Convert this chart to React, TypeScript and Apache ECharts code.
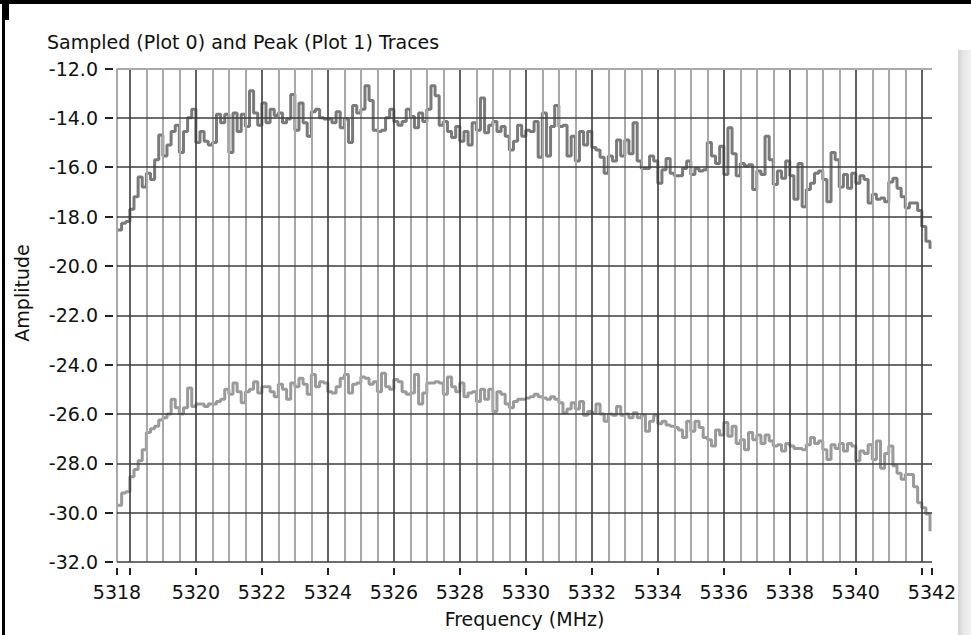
import React, { useEffect, useRef } from "react";
import * as echarts from "echarts";

const titleText = "Sampled (Plot 0) and Peak (Plot 1) Traces";
const xAxisName = "Frequency (MHz)";
const yAxisName = "Amplitude";

const freqMin = 5317.61;
const freqMax = 5342.31;
const ampMin = -32;
const ampMax = -12;
const ampStep = 2;

const sampleStart = 5317.625;
const sampleStep = 0.125;

const majorFreqLines = [5318, 5320, 5322, 5324, 5326, 5328, 5330, 5332, 5334, 5336, 5338, 5340, 5342];
const minorFreqStep = 0.5;
const majorAmpLines = [-32, -30, -28, -26, -24, -22, -20, -18, -16, -14];
const topAmpLine = -12;

// Plot 0 (sampled trace)
const sampledAmp = [
  -18.55, -18.27, -18.2, -17.7, -17.2, -16.4, -16.8, -16.25, -16.5, -15.7, -14.7, -15.55, -15.1, -14.55, -14.3, -15.4, -14.55, -14.0, -13.65,
  -15.0, -14.55, -14.95, -15.1, -15.0, -13.85, -14.2, -13.85, -15.4, -13.8, -14.55, -13.85, -14.35, -12.9, -13.8, -14.3,
  -13.4, -14.2, -13.65, -13.9, -13.8, -14.2, -14.05, -13.05, -14.5, -13.4, -14.2, -14.75, -13.75, -13.65, -14.0, -14.05,
  -14.05, -14.2, -13.75, -14.4, -14.05, -15.0, -13.5, -13.8, -13.65, -12.7, -13.3, -14.5, -14.55, -14.5, -14.0, -13.65,
  -14.15, -14.3, -14.15, -13.65, -13.95, -14.4, -13.8, -14.15, -13.65, -12.7, -13.1, -14.3, -14.15, -14.55, -14.8, -14.35,
  -14.95, -14.55, -15.1, -14.2, -14.5, -13.2, -14.6, -14.3, -14.15, -14.55, -14.35, -14.75, -15.3, -14.95, -14.3, -14.75,
  -14.5, -14.55, -14.15, -15.6, -13.8, -15.55, -14.35, -13.5, -14.35, -14.3, -15.55, -14.75, -15.75, -14.55, -15.1, -14.55,
  -15.2, -15.3, -15.6, -16.25, -15.55, -15.75, -14.9, -15.55, -14.9, -15.45, -14.2, -15.75, -16.05, -16.05, -15.55, -15.75,
  -16.65,
  -16.1, -15.65, -16.25, -16.35, -16.35, -16.05, -15.75, -16.3, -16.05, -16.15, -16.1, -15.0, -15.55, -15.85, -15.15,
  -16.3, -14.4, -15.45, -16.35, -15.85, -15.95, -15.9, -16.9, -16.15, -16.3, -14.75, -15.7, -16.7, -16.15, -16.45, -15.75,
  -16.35, -17.3, -15.85, -17.6, -16.9, -16.65, -16.25, -16.15, -16.5, -17.4, -15.4, -15.7, -16.8, -16.3, -16.85, -16.25,
  -16.65, -16.35, -16.5, -17.45, -17.1, -17.3, -17.25, -17.4, -16.6, -16.45, -16.85, -17.2, -17.65, -17.45, -17.45, -17.75,
  -18.4, -19.0, -19.3,
];

// Plot 1 (peak trace)
const peakAmp = [
  -29.7, -29.2, -29.15, -28.55, -28.25, -27.9, -27.45, -26.75, -26.6, -26.5, -26.25, -26.15, -26.0, -25.4, -25.75, -26.0, -25.75, -24.95, -25.7,
  -25.6, -25.6, -25.7, -25.6, -25.6, -25.5, -25.4, -25.0, -25.2, -24.75, -25.1, -25.55, -25.1, -25.0, -24.7, -25.15,
  -24.9, -24.9, -25.1, -25.3, -24.8, -25.0, -25.4, -24.75, -24.9, -24.55, -24.8, -25.2, -24.4, -24.9, -24.7, -24.75,
  -25.1, -25.15, -24.9, -24.55, -24.4, -25.15, -24.8, -24.75, -24.5, -24.55, -24.8, -24.7, -25.1, -24.35, -24.9, -25.0,
  -24.6, -24.7, -25.1, -25.2, -25.15, -24.4, -25.6, -25.15, -24.75, -24.75, -24.7, -24.75, -25.2, -24.5, -24.9, -25.1,
  -24.75, -25.3, -25.15, -25.1, -25.5, -25.0, -25.4, -25.0, -25.9, -25.1, -25.2, -25.6, -25.75, -25.5, -25.4, -25.4,
  -25.35, -25.3, -25.2, -25.3, -25.35, -25.4, -25.3, -25.4, -25.55, -25.95, -25.8, -25.55, -25.8, -25.5, -26.05, -25.9,
  -25.95, -25.6, -26.0, -26.3, -26.0, -26.05, -25.7, -26.05, -26.0, -26.15, -25.95, -26.15, -26.05, -26.7, -26.3, -26.05,
  -26.4,
  -26.3, -26.45, -26.5, -26.55, -26.65, -26.95, -26.3, -26.7, -26.3, -26.55, -26.95, -27.05, -27.3, -26.65, -26.85,
  -26.35, -26.9, -26.5, -27.2, -27.05, -27.45, -26.75, -27.05, -26.85, -27.2, -26.85, -27.1, -27.3, -27.25, -27.5, -27.2,
  -27.3, -27.4, -27.4, -27.45, -27.25, -26.95, -27.2, -27.1, -27.45, -27.85, -27.25, -27.4, -27.2, -27.5, -27.2, -27.3,
  -27.9, -27.5, -27.6, -27.25, -27.85, -27.1, -28.2, -27.6, -27.3, -28.1, -28.4, -28.65, -28.45, -28.45, -28.95, -29.6,
  -29.8, -30.05, -30.75,
];

const FONT = '"DejaVu Sans", Verdana, sans-serif';
const MAJOR_GRID = "#3c3c3c";
const MINOR_GRID = "#a9a9a9";

function toPairs(values: number[]) {
  return values.map((v, i) => [sampleStart + i * sampleStep, v]);
}

export default function App() {
  const ref = useRef<HTMLDivElement>(null);

  useEffect(() => {
    if (!ref.current) return;
    const chart = echarts.init(ref.current, null, { renderer: "svg" });

    const minorFreqLines: number[] = [freqMin];
    for (let f = Math.ceil(freqMin / minorFreqStep) * minorFreqStep; f <= freqMax; f += minorFreqStep) {
      if (!majorFreqLines.some((m) => Math.abs(m - f) < 1e-6)) minorFreqLines.push(f);
    }

    const gridLineData: any[] = [
      ...minorFreqLines.map((v) => ({ xAxis: v, lineStyle: { color: MINOR_GRID, width: 2, type: "solid" } })),
      ...majorFreqLines.map((v) => ({ xAxis: v, lineStyle: { color: MAJOR_GRID, width: 1.6, type: "solid" } })),
      ...majorAmpLines.map((v) => ({ yAxis: v, lineStyle: { color: MAJOR_GRID, width: 1.6, type: "solid" } })),
      { yAxis: topAmpLine, lineStyle: { color: MINOR_GRID, width: 2, type: "solid" } },
    ];

    const option: any = {
      animation: false,
      backgroundColor: "#ffffff",
      title: {
        text: titleText,
        left: 47,
        top: 32,
        padding: 0,
        textStyle: { fontFamily: FONT, fontSize: 19, fontWeight: "normal", color: "#111" },
      },
      grid: { left: 117, right: 39, top: 68.5, bottom: 73, containLabel: false, outerBoundsMode: "none" },
      xAxis: {
        type: "value",
        min: freqMin,
        max: freqMax,
        splitNumber: 12,
        offset: 6,
        name: xAxisName,
        nameLocation: "middle",
        nameGap: 41,
        nameTextStyle: { fontFamily: FONT, fontSize: 19, color: "#111" },
        axisLine: { show: false },
        axisTick: { show: true, length: 7, lineStyle: { color: "#222", width: 2 } },
        splitLine: { show: false },
        axisLabel: {
          show: true,
          showMinLabel: true,
          showMaxLabel: true,
          margin: 14,
          fontFamily: FONT,
          fontSize: 19,
          color: "#111",
          formatter: (v: number) => {
            const atEdge = Math.abs(v - freqMin) < 1e-6 || Math.abs(v - freqMax) < 1e-6;
            if (!atEdge && (Math.abs(v - freqMin) < 0.5 || Math.abs(v - freqMax) < 0.5)) return "";
            return String(Math.round(v));
          },
        },
      },
      yAxis: {
        type: "value",
        min: ampMin,
        max: ampMax,
        interval: ampStep,
        offset: 4,
        axisLine: { show: false },
        axisTick: { show: true, length: 8, lineStyle: { color: "#222", width: 2 } },
        splitLine: { show: false },
        axisLabel: {
          margin: 15,
          fontFamily: FONT,
          fontSize: 19,
          color: "#111",
          formatter: (v: number) => v.toFixed(1),
        },
      },
      graphic: [
        { type: "rect", shape: { x: 0, y: 0, width: 971, height: 4 }, style: { fill: "#000" }, silent: true },
        { type: "rect", shape: { x: 2, y: 0, width: 3, height: 635 }, style: { fill: "#000" }, silent: true },
        { type: "rect", shape: { x: 2, y: 0, width: 7, height: 20 }, style: { fill: "#000" }, silent: true },
        {
          type: "rect",
          shape: { x: 958, y: 50, width: 13, height: 585 },
          style: {
            fill: new echarts.graphic.LinearGradient(0, 0, 1, 0, [
              { offset: 0, color: "#d2d2d2" },
              { offset: 0.4, color: "#e6e6e6" },
              { offset: 1, color: "#f2f2f2" },
            ]),
          },
          silent: true,
        },
        {
          type: "text",
          x: 22,
          y: 293,
          rotation: Math.PI / 2,
          style: {
            text: yAxisName,
            font: `19px ${FONT}`,
            fill: "#111",
            textAlign: "center",
            textVerticalAlign: "middle",
          },
          silent: true,
        },
      ],
      series: [
        {
          name: "grid",
          type: "line",
          data: [],
          silent: true,
          z: 1,
          markLine: {
            silent: true,
            symbol: "none",
            label: { show: false },
            animation: false,
            data: gridLineData,
          },
        },
        {
          name: "Plot 1",
          type: "line",
          data: toPairs(peakAmp),
          step: "end",
          showSymbol: false,
          symbol: "none",
          z: 3,
          lineStyle: { color: "#9a9a9a", width: 3 },
        },
        {
          name: "Plot 0",
          type: "line",
          data: toPairs(sampledAmp),
          step: "end",
          showSymbol: false,
          symbol: "none",
          z: 3,
          lineStyle: { color: "#7a7a7a", width: 3 },
        },
      ],
    };

    chart.setOption(option);
    return () => chart.dispose();
  }, []);

  return (
    <div
      ref={ref}
      style={{ position: "absolute", left: 0, top: 0, width: 971, height: 635, background: "#fff" }}
    />
  );
}
